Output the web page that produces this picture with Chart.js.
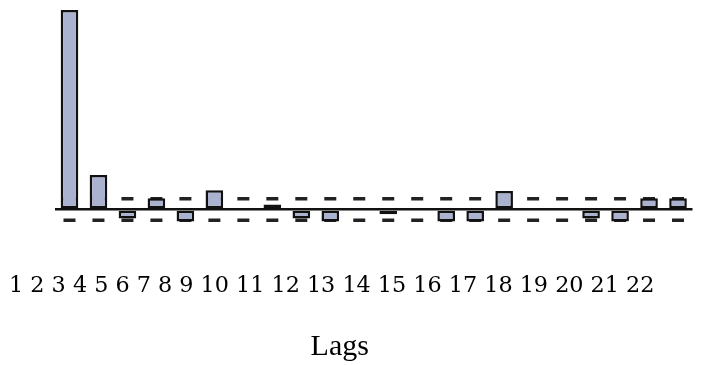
<!DOCTYPE html>
<html>
<head>
<meta charset="utf-8">
<script src="https://cdn.jsdelivr.net/npm/chart.js@4/dist/chart.umd.min.js"></script>
<style>
  html, body { margin: 0; padding: 0; background: #ffffff; }
  #wrap { width: 702px; height: 365px; position: relative; }
</style>
</head>
<body>
<div id="wrap"><canvas id="acf"></canvas></div>
<script>
// Lag numbers shown under the plot
const lags = ['1','2','3','4','5','6','7','8','9','10','11','12','13','14','15','16','17','18','19','20','21','22'];

// Autocorrelation at each lag
const acf = [1.0, 0.173, -0.045, 0.056, -0.06, 0.097, 0, 0.025, -0.045, -0.06, 0,
             -0.023, 0, -0.06, -0.06, 0.093, 0, 0, -0.045, -0.06, 0.056, 0.056];

// Upper and lower confidence limits, one short dash per lag
const upperLimit = [0.054, 0.054, 0.054, 0.054, 0.054, 0.054, 0.054, 0.054, 0.054, 0.054, 0.054,
                    0.054, 0.054, 0.054, 0.054, 0.054, 0.054, 0.054, 0.054, 0.054, 0.054, 0.054];
const lowerLimit = [-0.054, -0.054, -0.054, -0.054, -0.054, -0.054, -0.054, -0.054, -0.054, -0.054, -0.054,
                    -0.054, -0.054, -0.054, -0.054, -0.054, -0.054, -0.054, -0.054, -0.054, -0.054, -0.054];

const axisTitle = 'Lags';

const limitStyle = {
  type: 'line',
  xAxisID: 'x',
  yAxisID: 'y',
  showLine: false,
  pointStyle: 'line',
  pointRadius: 6,
  pointHoverRadius: 6,
  pointBorderWidth: 3.5,
  pointBorderColor: '#222222',
  pointBackgroundColor: '#222222',
  order: 2
};

// Single-label text rows under the plot: fixed band height, no side padding
function textRow(height) {
  return (scale) => {
    scale.height = height;
    scale.paddingLeft = 0;
    scale.paddingRight = 0;
  };
}

new Chart(document.getElementById('acf'), {
  type: 'bar',
  data: {
    labels: lags,
    datasets: [
      {
        data: acf,
        xAxisID: 'x',
        yAxisID: 'y',
        backgroundColor: '#aab2cf',
        borderColor: '#111111',
        borderWidth: 2.5,
        borderSkipped: false,
        barPercentage: 0.95,
        categoryPercentage: 0.64,
        order: 0
      },
      Object.assign({ data: upperLimit }, limitStyle),
      Object.assign({ data: lowerLimit }, limitStyle)
    ]
  },
  options: {
    responsive: true,
    maintainAspectRatio: false,
    animation: false,
    layout: { padding: { top: 10, right: 5, left: 0, bottom: 0 } },
    plugins: {
      legend: { display: false },
      tooltip: { enabled: false }
    },
    scales: {
      x: {
        type: 'category',
        display: false,
        offset: true
      },
      xNums: {
        type: 'category',
        position: 'bottom',
        weight: 1,
        labels: [lags.join(' ')],
        offset: true,
        afterFit: textRow(90),
        grid: { display: false, drawTicks: false },
        border: { display: false },
        ticks: {
          autoSkip: false,
          maxRotation: 0,
          minRotation: 0,
          padding: 47,
          labelOffset: -42,
          color: '#000000',
          font: { family: '"DejaVu Serif"', size: 22.3 }
        }
      },
      xLags: {
        type: 'category',
        position: 'bottom',
        weight: 2,
        labels: [axisTitle],
        offset: true,
        afterFit: textRow(49.5),
        grid: { display: false, drawTicks: false },
        border: { display: false },
        ticks: {
          autoSkip: false,
          maxRotation: 0,
          minRotation: 0,
          padding: 14,
          labelOffset: -34,
          color: '#000000',
          font: { family: '"Liberation Serif"', size: 30 }
        }
      },
      y: {
        type: 'linear',
        min: -0.08,
        max: 1.0,
        afterFit: (scale) => { scale.width = 55; },
        afterBuildTicks: (scale) => { scale.ticks = [{ value: 0 }]; },
        ticks: { display: false },
        border: { display: false },
        grid: { color: '#111111', lineWidth: 2.5, drawTicks: false }
      }
    }
  }
});
</script>
</body>
</html>
